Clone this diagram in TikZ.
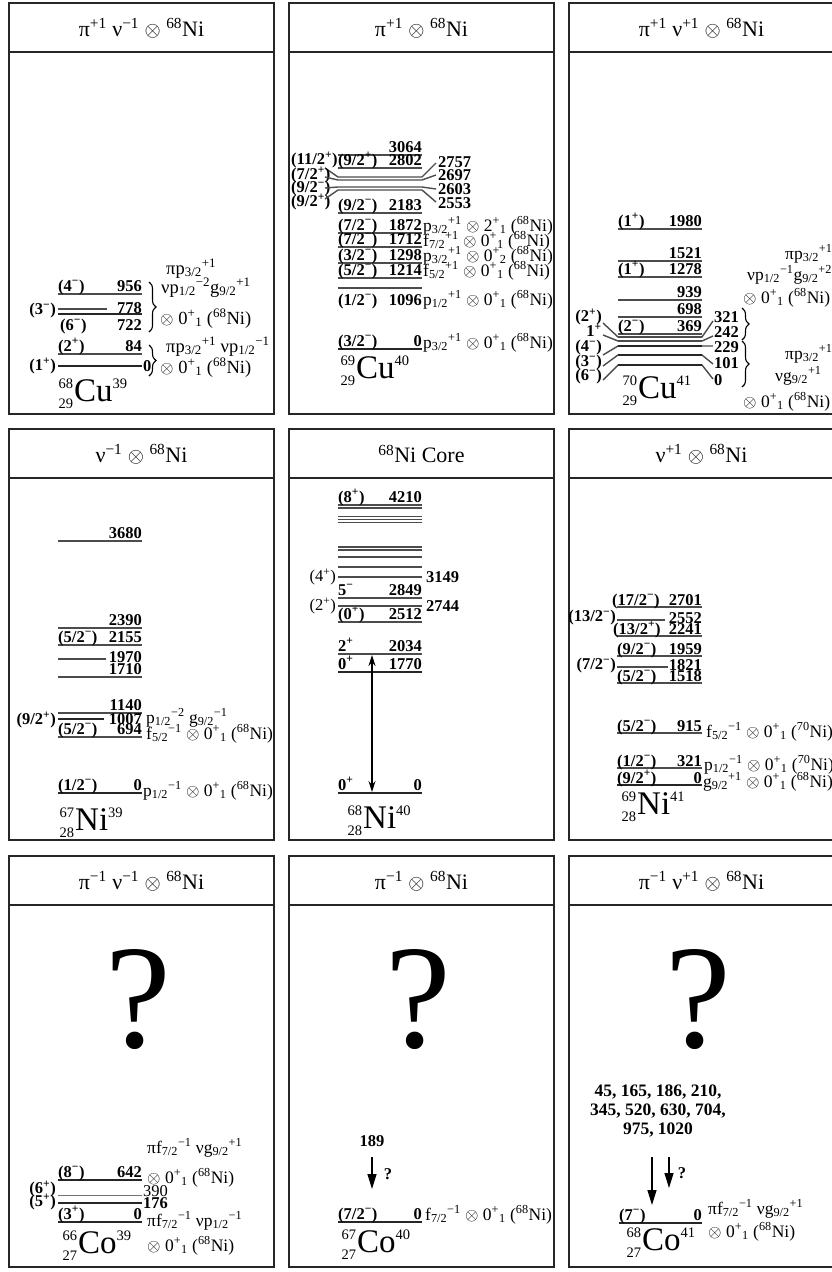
\documentclass[tikz,border=0pt]{standalone}
\usepackage{fontspec}
\setmainfont{Liberation Serif}
\usetikzlibrary{arrows.meta}
\usetikzlibrary{decorations.pathreplacing}

% spin label, orbital, core state and nucleus symbol
\newcommand{\jj}[2]{(#1\textsuperscript{#2})}
\newcommand{\orb}[3]{#1\textsubscript{#2}\textsuperscript{#3}}
\newcommand{\cor}[3]{$\otimes$ #1\textsuperscript{+}\textsubscript{#2} (\textsuperscript{#3}Ni)}
\newcommand{\iso}[4]{\llap{\fontsize{14.5}{15}\selectfont\raisebox{13pt}{#1}\kern1pt}\llap{\fontsize{14.5}{15}\selectfont\raisebox{-7pt}{#2}\kern1pt}#3{\fontsize{14.5}{15}\selectfont\raisebox{13pt}{#4}}}

\begin{document}
\begin{tikzpicture}[x=1pt, y=-1pt,
	box/.style = {draw=black!85, line width=1.3pt},
	ttl/.style = {font=\fontsize{22}{22}\selectfont, inner sep=0pt},
	lev/.style = {draw=black!70, line width=1.4pt},
	glev/.style = {draw=black!85, line width=2.8pt},
	faint/.style = {draw=black!55, line width=1pt},
	lab/.style = {font=\fontsize{16.5}{17}\selectfont\bfseries, inner sep=0pt},
	spn/.style = {font=\fontsize{16.5}{17}\selectfont, inner sep=0pt},
	cfg/.style = {font=\fontsize{17.5}{18}\selectfont, inner sep=0pt},
	cfgA/.style = {font=\fontsize{18.5}{19}\selectfont, inner sep=0pt},
	nuc/.style = {font=\fontsize{33}{33}\selectfont, inner sep=0pt},
	qq/.style = {font=\fontsize{148}{148}\selectfont, inner sep=0pt},
	brc/.style = {decorate, decoration={brace, amplitude=7pt}, line width=1.1pt},
	tr/.style = {-{Triangle[length=15pt, width=9pt]}, line width=1.2pt},
	dbl/.style = {{Stealth[length=11pt, width=7pt]}-{Stealth[length=11pt, width=7pt]}, line width=1.1pt}
]
\useasboundingbox (0,0) rectangle (831,1272);
\fill[white] (0,0) rectangle (831,1272);

% nine panels, each with a title strip
\foreach \cx in {9,289,569} {
  \foreach \ty in {3,429,856} {
    \draw[box] (\cx,\ty) rectangle ++(265,411);
    \draw[box] (\cx,\ty+49) -- ++(265,0);
  }
}
\node[ttl] (tA) at (141.5,28) {π\textsuperscript{+1} ν\textsuperscript{−1} $\otimes$ \textsuperscript{68}Ni};
\node[ttl] (tB) at (421.5,28) {π\textsuperscript{+1} $\otimes$ \textsuperscript{68}Ni};
\node[ttl] (tC) at (701.5,28) {π\textsuperscript{+1} ν\textsuperscript{+1} $\otimes$ \textsuperscript{68}Ni};
\node[ttl] (tD) at (141.5,454) {ν\textsuperscript{−1} $\otimes$ \textsuperscript{68}Ni};
\node[ttl] (tE) at (421.5,454) {\textsuperscript{68}Ni Core};
\node[ttl] (tF) at (701.5,454) {ν\textsuperscript{+1} $\otimes$ \textsuperscript{68}Ni};
\node[ttl] (tG) at (141.5,881) {π\textsuperscript{−1} ν\textsuperscript{−1} $\otimes$ \textsuperscript{68}Ni};
\node[ttl] (tH) at (421.5,881) {π\textsuperscript{−1} $\otimes$ \textsuperscript{68}Ni};
\node[ttl] (tI) at (701.5,881) {π\textsuperscript{−1} ν\textsuperscript{+1} $\otimes$ \textsuperscript{68}Ni};

% ---------- 68Cu ----------
\foreach \y/\jl/\en in {294/\jj{4}{−}/956, 354/\jj{2}{+}/84} {
  \draw[lev] (58,\y) -- (142,\y);
  \node[lab, anchor=base west] (A\en-j) at (58,\y-3) {\jl};
  \node[lab, anchor=base east] (A\en) at (142,\y-3) {\en};
}
\draw[lev] (58,309) -- (107,309);
\draw[glev] (58,314) -- (142,314);
\draw[glev] (58,366) -- (142,366);
\node[lab, anchor=east] (A778-j) at (56,311) {\jj{3}{−}};
\node[lab, anchor=base east] (A778) at (142,313) {778};
\node[lab, anchor=base west] (A722-j) at (60,330) {\jj{6}{−}};
\node[lab, anchor=base east] (A722) at (142,330) {722};
\node[lab, anchor=east] (A0-j) at (56,366) {\jj{1}{+}};
\node[lab, anchor=base west] (A0) at (143,371) {0};
\draw[brc] (149,282) -- (149,332);
\draw[brc] (149,345) -- (149,376);
\node[cfgA, anchor=base west] (A-c1) at (166,274) {π\orb{p}{3/2}{+1}};
\node[cfgA, anchor=base west] (A-c2) at (161,293) {ν\orb{p}{1/2}{−2}\orb{g}{9/2}{+1}};
\node[cfgA, anchor=base west] (A-c3) at (160,324) {\cor{0}{1}{68}};
\node[cfgA, anchor=base west] (A-c4) at (166,352) {π\orb{p}{3/2}{+1} ν\orb{p}{1/2}{−1}};
\node[cfgA, anchor=base west] (A-c5) at (160,373) {\cor{0}{1}{68}};
\node[nuc, anchor=base west] (A-nuc) at (74,401) {\iso{68}{29}{Cu}{39}};

% ---------- 69Cu ----------
\foreach \y/\st/\jl/\en in {155/lev//3064, 168/lev/\jj{9/2}{+}/2802, 213/lev/\jj{9/2}{−}/2183, 233/lev/\jj{7/2}{−}/1872, 247/lev/\jj{7/2}{−}/1712, 263/lev/\jj{3/2}{−}/1298, 278/lev/\jj{5/2}{−}/1214, 349/glev/\jj{3/2}{−}/0} {
  \draw[\st] (338,\y) -- (422,\y);
  \node[lab, anchor=base west] (B\en-j) at (338,\y-3) {\jl};
  \node[lab, anchor=base east] (B\en) at (422,\y-3) {\en};
}
\draw[lev] (338,288) -- (422,288);
\node[lab, anchor=base west] (B1096-j) at (338,305) {\jj{1/2}{−}};
\node[lab, anchor=base east] (B1096) at (422,305) {1096};
% bunched levels fanned out to their labels
\foreach \y/\ya/\yb/\jy/\ey/\jl/\en in {177/168/163/160/162/\jj{11/2}{+}/2757, 180/177/175/175/175/\jj{7/2}{+}/2697, 187/188/189/189/189/\jj{9/2}{−}/2603, 190/199/202/202/203/\jj{9/2}{+}/2553} {
  \node[lab, anchor=west] (B\en-j) at (291,\jy) {\jl};
  \node[lab, anchor=west] (B\en) at (438,\ey) {\en};
  \coordinate (B\en-a) at (325,\ya);
  \coordinate (B\en-b) at (436,\yb);
  \draw[lev] (B\en-a) -- (338,\y) -- (422,\y) -- (B\en-b);
}
\node[cfg, anchor=base west] (B-c1) at (423,231) {\orb{p}{3/2}{+1} \cor{2}{1}{68}};
\node[cfg, anchor=base west] (B-c2) at (423,246) {\orb{f}{7/2}{+1} \cor{0}{1}{68}};
\node[cfg, anchor=base west] (B-c3) at (423,261) {\orb{p}{3/2}{+1} \cor{0}{2}{68}};
\node[cfg, anchor=base west] (B-c4) at (423,276) {\orb{f}{5/2}{+1} \cor{0}{1}{68}};
\node[cfg, anchor=base west] (B-c5) at (423,305) {\orb{p}{1/2}{+1} \cor{0}{1}{68}};
\node[cfg, anchor=base west] (B-c6) at (423,348) {\orb{p}{3/2}{+1} \cor{0}{1}{68}};
\node[nuc, anchor=base west] (B-nuc) at (356,378) {\iso{69}{29}{Cu}{40}};

% ---------- 70Cu ----------
\foreach \y/\jl/\en in {229/\jj{1}{+}/1980, 261//1521, 277/\jj{1}{+}/1278, 300//939, 317//698, 334/\jj{2}{−}/369} {
  \draw[lev] (618,\y) -- (702,\y);
  \node[lab, anchor=base west] (C\en-j) at (618,\y-3) {\jl};
  \node[lab, anchor=base east] (C\en) at (702,\y-3) {\en};
}
\foreach \y/\st/\ya/\jy/\yb/\ey/\jl/\en in {337/lev/323/317/321/317/\jj{2}{+}/321, 341/lev/335/330/336/332/1\textsuperscript{+}/242, 346/glev/355/348/346/347/\jj{4}{−}/229, 355/glev/366/363/364/363/\jj{3}{−}/101, 365/glev/380/377/379/380/\jj{6}{−}/0} {
  \node[lab, anchor=east] (C\en-j) at (602,\jy) {\jl};
  \node[lab, anchor=west] (C\en) at (714,\ey) {\en};
  \coordinate (C\en-a) at (603,\ya);
  \coordinate (C\en-b) at (713,\yb);
  \draw[lev] (C\en-a) -- (618,\y) -- (702,\y) -- (C\en-b);
  \draw[\st] (618,\y) -- (702,\y);
}
\draw[brc] (742,308) -- (742,340);
\draw[brc] (742,341) -- (742,387);
\node[cfg, anchor=base west] (C-c1) at (785,259) {π\orb{p}{3/2}{+1}};
\node[cfg, anchor=base west] (C-c2) at (747,280) {ν\orb{p}{1/2}{−1}\orb{g}{9/2}{+2}};
\node[cfg, anchor=base west] (C-c3) at (743,303) {\cor{0}{1}{68}};
\node[cfg, anchor=base west] (C-c4) at (785,359) {π\orb{p}{3/2}{+1}};
\node[cfg, anchor=base west] (C-c5) at (775,381) {ν\orb{g}{9/2}{+1}};
\node[cfg, anchor=base west] (C-c6) at (743,407) {\cor{0}{1}{68}};
\node[nuc, anchor=base west] (C-nuc) at (638,398) {\iso{70}{29}{Cu}{41}};

% ---------- 67Ni ----------
\foreach \y/\st/\jl/\en in {541/lev//3680, 628/lev//2390, 645/lev/\jj{5/2}{−}/2155, 677/lev//1710, 713/lev//1140, 737/lev/\jj{5/2}{−}/694, 793/glev/\jj{1/2}{−}/0} {
  \draw[\st] (58,\y) -- (142,\y);
  \node[lab, anchor=base west] (D\en-j) at (58,\y-3) {\jl};
  \node[lab, anchor=base east] (D\en) at (142,\y-3) {\en};
}
\draw[lev] (58,659) -- (106,659);
\node[lab, anchor=base east] (D1970) at (142,662) {1970};
\draw[glev] (58,719) -- (104,719);
\node[lab, anchor=base east] (D1007) at (142,724) {1007};
\node[lab, anchor=east] (D1007-j) at (56,720) {\jj{9/2}{+}};
\node[cfg, anchor=base west] (D-c1) at (146,723) {\orb{p}{1/2}{−2} \orb{g}{9/2}{−1}};
\node[cfg, anchor=base west] (D-c2) at (146,739) {\orb{f}{5/2}{−1} \cor{0}{1}{68}};
\node[cfg, anchor=base west] (D-c3) at (143,796) {\orb{p}{1/2}{−1} \cor{0}{1}{68}};
\node[nuc, anchor=base west] (D-nuc) at (75,830) {\iso{67}{28}{Ni}{39}};

% ---------- 68Ni core ----------
\foreach \y/\st/\jl/\en in {505/lev/\jj{8}{+}/4210, 598/lev/5\textsuperscript{−}/2849, 622/lev/\jj{0}{+}/2512, 654/lev/2\textsuperscript{+}/2034, 672/glev/0\textsuperscript{+}/1770, 793/glev/0\textsuperscript{+}/0} {
  \draw[\st] (338,\y) -- (422,\y);
  \node[lab, anchor=base west] (E\en-j) at (338,\y-3) {\jl};
  \node[lab, anchor=base east] (E\en) at (422,\y-3) {\en};
}
\foreach \y in {508,516.5,519.5,522.5,547,550,557,567}
  \draw[lev] (338,\y) -- (422,\y);
\foreach \y/\jl/\en in {577/\jj{4}{+}/3149, 606/\jj{2}{+}/2744} {
  \draw[lev] (338,\y) -- (422,\y);
  \node[spn, anchor=east] (E\en-j) at (336,\y) {\jl};
  \node[lab, anchor=west] (E\en) at (426,\y) {\en};
}
\coordinate (E-up) at (372,655);
\coordinate (E-dn) at (372,792);
\draw[dbl] (E-dn) -- (E-up);
\node[nuc, anchor=base west] (E-nuc) at (363,828) {\iso{68}{28}{Ni}{40}};

% ---------- 69Ni ----------
\foreach \y/\st/\x/\jl/\en in {607/lev/612/\jj{17/2}{−}/2701, 636/lev/613/\jj{13/2}{+}/2241, 656/lev/617/\jj{9/2}{−}/1959, 683/lev/617/\jj{5/2}{−}/1518, 733/lev/617/\jj{5/2}{−}/915, 768/lev/617/\jj{1/2}{−}/321, 785/glev/617/\jj{9/2}{+}/0} {
  \draw[\st] (617,\y) -- (702,\y);
  \node[lab, anchor=base west] (F\en-j) at (\x,\y-2) {\jl};
  \node[lab, anchor=base east] (F\en) at (702,\y-2) {\en};
}
\draw[lev] (617,620) -- (665,620);
\node[lab, anchor=base east] (F2552) at (702,623) {2552};
\node[lab, anchor=east] (F2552-j) at (616,618) {\jj{13/2}{−}};
\draw[lev] (617,667) -- (668,667);
\node[lab, anchor=base east] (F1821) at (702,670) {1821};
\node[lab, anchor=east] (F1821-j) at (616,666) {\jj{7/2}{−}};
\node[cfg, anchor=base west] (F-c1) at (706,737) {\orb{f}{5/2}{−1} \cor{0}{1}{70}};
\node[cfg, anchor=base west] (F-c2) at (704,770) {\orb{p}{1/2}{−1} \cor{0}{1}{70}};
\node[cfg, anchor=base west] (F-c3) at (703,787) {\orb{g}{9/2}{+1} \cor{0}{1}{68}};
\node[nuc, anchor=base west] (F-nuc) at (637,814) {\iso{69}{28}{Ni}{41}};

% ---------- 66Co ----------
\node[qq] (G-q) at (138,1000) {?};
\foreach \y/\jl/\en in {1180/\jj{8}{−}/642, 1222/\jj{3}{+}/0} {
  \draw[glev] (58,\y) -- (142,\y);
  \node[lab, anchor=base west] (G\en-j) at (58,\y-3) {\jl};
  \node[lab, anchor=base east] (G\en) at (142,\y-3) {\en};
}
\draw[faint] (58,1195) -- (142,1195);
\node[spn, anchor=west] (G390) at (143,1191) {390};
\node[lab, anchor=east] (G390-j) at (56,1189) {\jj{6}{+}};
\draw[glev] (58,1203) -- (142,1203);
\node[lab, anchor=west] (G176) at (143,1203) {176};
\node[lab, anchor=east] (G176-j) at (56,1202) {\jj{5}{+}};
\node[cfg, anchor=base west] (G-c1) at (147,1153) {π\orb{f}{7/2}{−1} ν\orb{g}{9/2}{+1}};
\node[cfg, anchor=base west] (G-c2) at (147,1183) {\cor{0}{1}{68}};
\node[cfg, anchor=base west] (G-c3) at (147,1226) {π\orb{f}{7/2}{−1} ν\orb{p}{1/2}{−1}};
\node[cfg, anchor=base west] (G-c4) at (147,1251) {\cor{0}{1}{68}};
\node[nuc, anchor=base west] (G-nuc) at (78,1253) {\iso{66}{27}{Co}{39}};

% ---------- 67Co ----------
\node[qq] (H-q) at (418,1000) {?};
\node[lab] (H189) at (372,1141) {189};
\coordinate (H-a) at (372,1157);
\coordinate (H-b) at (372,1189);
\draw[tr] (H-a) -- (H-b);
\node[lab] (H-unk) at (388,1174) {?};
\draw[glev] (338,1222) -- (422,1222);
\node[lab, anchor=base west] (H0-j) at (338,1219) {\jj{7/2}{−}};
\node[lab, anchor=base east] (H0) at (422,1219) {0};
\node[cfg, anchor=base west] (H-c1) at (425,1220) {\orb{f}{7/2}{−1} \cor{0}{1}{68}};
\node[nuc, anchor=base west] (H-nuc) at (357,1252) {\iso{67}{27}{Co}{40}};

% ---------- 68Co ----------
\node[qq] (I-q) at (698,1000) {?};
\node[lab, align=center, font=\fontsize{17.5}{19}\selectfont\bfseries] (I-lines) at (658,1111) {45, 165, 186, 210,\\345, 520, 630, 704,\\975, 1020};
\coordinate (I-a) at (652,1157);
\coordinate (I-b) at (652,1205);
\coordinate (I-c) at (669,1157);
\coordinate (I-d) at (669,1188);
\draw[tr] (I-a) -- (I-b);
\draw[tr] (I-c) -- (I-d);
\node[lab] (I-unk) at (682,1173) {?};
\draw[glev] (619,1223) -- (702,1223);
\node[lab, anchor=base west] (I0-j) at (619,1220) {\jj{7}{−}};
\node[lab, anchor=base east] (I0) at (702,1220) {0};
\node[cfg, anchor=base west] (I-c1) at (708,1214) {π\orb{f}{7/2}{−1} ν\orb{g}{9/2}{+1}};
\node[cfg, anchor=base west] (I-c2) at (708,1237) {\cor{0}{1}{68}};
\node[nuc, anchor=base west] (I-nuc) at (642,1250) {\iso{68}{27}{Co}{41}};

\end{tikzpicture}
\end{document}
